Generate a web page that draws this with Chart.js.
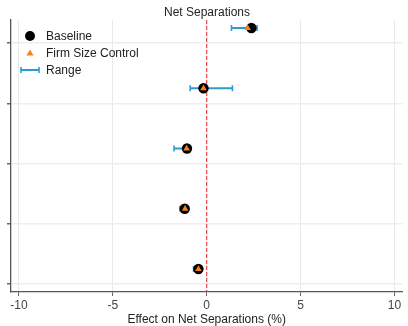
<!DOCTYPE html>
<html>
<head>
<meta charset="utf-8">
<script src="https://cdn.jsdelivr.net/npm/chart.js@4/dist/chart.umd.min.js"></script>
<style>
  html, body { margin: 0; padding: 0; background: #fff; }
  #wrap { width: 408px; height: 326px; }
</style>
</head>
<body>
<div id="wrap"><canvas id="c" width="408" height="326"></canvas></div>
<script>
// Specifications, listed top to bottom
const specs = ['Spec 1', 'Spec 2', 'Spec 3', 'Spec 4', 'Spec 5'];
// Point estimates (%)
const baseline = [2.38, -0.17, -1.05, -1.17, -0.44];
const firmSizeControl = [2.18, -0.17, -1.07, -1.15, -0.44];
// Range across alternative specifications (%)
const rangeLow = [1.32, -0.88, -1.74, -1.42, -0.70];
const rangeHigh = [2.68, 1.37, -1.05, -1.17, -0.44];
// Axis ticks
const xTicks = [-10, -5, 0, 5, 10];
const referenceValue = 0;

const COLORS = { baseline: '#000000', firm: '#f5821f', range: '#2b9bd1', zero: '#e8383d' };
const FONT = "'Liberation Sans', Arial, sans-serif";

// Rows sit at y = n..1 from the top; grid ticks sit a quarter row below each
const rowY = i => specs.length - i;
const yTickVals = specs.map((_, i) => rowY(i) - 0.25);

const rangeSets = specs.map((s, i) => ({
  type: 'scatter',
  label: i === 0 ? 'Range' : '',
  data: [{ x: rangeLow[i], y: rowY(i) }, { x: rangeHigh[i], y: rowY(i) }],
  showLine: true,
  borderColor: COLORS.range,
  borderWidth: 2,
  pointStyle: 'line',
  rotation: 90,
  pointRadius: 3,
  pointBorderWidth: 1.6,
  pointBorderColor: COLORS.range,
  order: 3
}));

const datasets = [
  {
    type: 'scatter',
    label: 'Firm Size Control',
    data: firmSizeControl.map((v, i) => ({ x: v, y: rowY(i) })),
    pointStyle: 'triangle',
    pointRadius: 3.8,
    backgroundColor: COLORS.firm,
    borderColor: COLORS.firm,
    borderWidth: 0,
    order: 0
  },
  {
    type: 'scatter',
    label: 'Baseline',
    data: baseline.map((v, i) => ({ x: v, y: rowY(i) })),
    pointStyle: 'circle',
    pointRadius: 5.2,
    backgroundColor: COLORS.baseline,
    borderColor: COLORS.baseline,
    borderWidth: 0,
    order: 1
  },
  ...rangeSets
];

// Dashed reference line at zero, behind the markers
const zeroLine = {
  id: 'zeroLine',
  beforeDatasetsDraw(chart) {
    const { ctx, chartArea, scales } = chart;
    const x = scales.x.getPixelForValue(referenceValue);
    ctx.save();
    ctx.strokeStyle = COLORS.zero;
    ctx.lineWidth = 1.1;
    ctx.setLineDash([4, 2]);
    ctx.beginPath();
    ctx.moveTo(x, chartArea.top);
    ctx.lineTo(x, chartArea.bottom);
    ctx.stroke();
    ctx.restore();
  }
};

// Legend drawn inside the plot, top left
const insideLegend = {
  id: 'insideLegend',
  afterDraw(chart) {
    const { ctx, chartArea } = chart;
    const x0 = chartArea.left + 19;
    const tx = chartArea.left + 35;
    const y0 = chartArea.top + 16;
    const step = 17;
    ctx.save();
    // Baseline marker
    ctx.fillStyle = COLORS.baseline;
    ctx.beginPath();
    ctx.arc(x0, y0, 5, 0, Math.PI * 2);
    ctx.fill();
    // Firm size control marker
    const ty = y0 + step;
    ctx.fillStyle = COLORS.firm;
    ctx.beginPath();
    ctx.moveTo(x0, ty - 3.5);
    ctx.lineTo(x0 + 3.6, ty + 2.6);
    ctx.lineTo(x0 - 3.6, ty + 2.6);
    ctx.closePath();
    ctx.fill();
    // Range marker
    const ry = y0 + step * 2;
    ctx.strokeStyle = COLORS.range;
    ctx.lineWidth = 2;
    ctx.beginPath();
    ctx.moveTo(x0 - 9, ry);
    ctx.lineTo(x0 + 9, ry);
    ctx.stroke();
    ctx.lineWidth = 1.6;
    ctx.beginPath();
    ctx.moveTo(x0 - 9, ry - 3); ctx.lineTo(x0 - 9, ry + 3);
    ctx.moveTo(x0 + 9, ry - 3); ctx.lineTo(x0 + 9, ry + 3);
    ctx.stroke();
    // Labels
    ctx.fillStyle = '#222';
    ctx.font = '12px ' + FONT;
    ctx.textBaseline = 'middle';
    ctx.textAlign = 'left';
    ['Baseline', 'Firm Size Control', 'Range'].forEach((t, i) => {
      ctx.fillText(t, tx, y0 + step * i + 0.5);
    });
    ctx.restore();
  }
};

new Chart(document.getElementById('c'), {
  type: 'scatter',
  data: { datasets },
  plugins: [zeroLine, insideLegend],
  options: {
    responsive: false,
    animation: false,
    layout: { padding: { left: 7, right: 1, top: 0, bottom: 0 } },
    plugins: {
      legend: { display: false },
      tooltip: { enabled: false },
      title: {
        display: true,
        text: 'Net Separations',
        color: '#222',
        font: { family: FONT, size: 12, weight: 'normal', lineHeight: 1.2 },
        padding: { top: 5.6, bottom: 0 }
      }
    },
    scales: {
      x: {
        type: 'linear',
        min: -10.42,
        max: 10.42,
        afterBuildTicks: s => { s.ticks = xTicks.map(v => ({ value: v })); },
        afterFit: s => { s.height = 34; },
        grid: { color: '#e9e9e9', lineWidth: 1, tickLength: 4, tickColor: '#666' },
        border: { display: true, color: '#555', width: 1.3 },
        ticks: { color: '#444', font: { family: FONT, size: 12, lineHeight: 1 }, padding: 4 },
        title: {
          display: true,
          text: 'Effect on Net Separations (%)',
          color: '#222',
          font: { family: FONT, size: 12, lineHeight: 1 },
          padding: { top: 0, bottom: 0.5 }
        }
      },
      y: {
        type: 'linear',
        min: 0.618,
        max: 5.133,
        afterBuildTicks: s => { s.ticks = yTickVals.map(v => ({ value: v })); },
        grid: { color: '#eeeeee', lineWidth: 1.5, tickLength: 4, tickColor: '#666' },
        border: { display: true, color: '#555', width: 1.3 },
        ticks: { display: false }
      }
    }
  }
});
</script>
</body>
</html>
